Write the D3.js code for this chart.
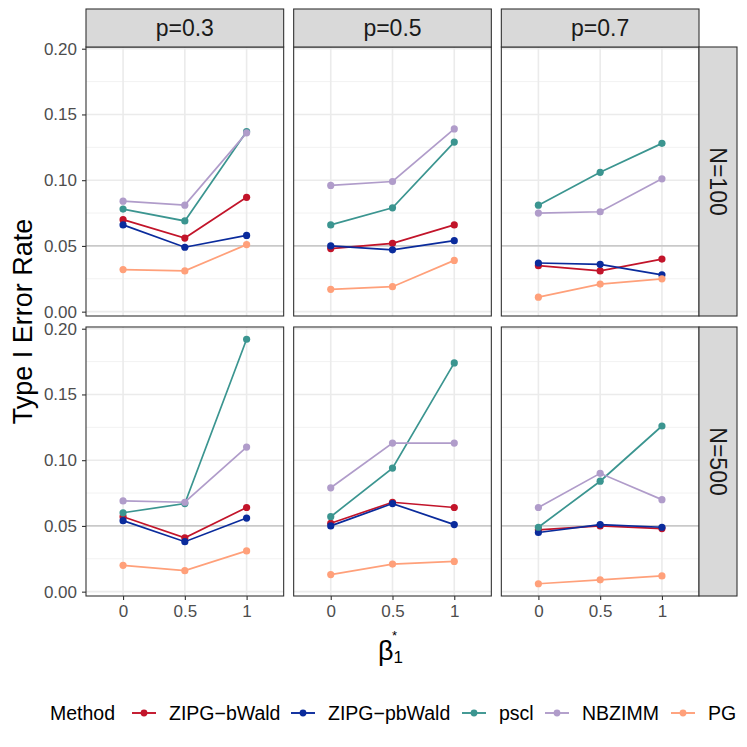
<!DOCTYPE html>
<html><head><meta charset="utf-8">
<script src="https://cdn.jsdelivr.net/npm/d3@7"></script>
<style>body{margin:0;background:#fff}svg{display:block;font-family:"Liberation Sans",Arial,sans-serif}</style>
</head><body><svg id="c" width="747" height="747"></svg>
<script>
// ---- data ----
const methods = ["ZIPG\u2212bWald", "ZIPG\u2212pbWald", "pscl", "NBZIMM", "PG"];
const methodColors = ["#C2142A", "#0A2B9C", "#3B9590", "#B09CCA", "#FFA07A"];
const pLabels = ["p=0.3", "p=0.5", "p=0.7"];
const nLabels = ["N=100", "N=500"];
const betaLabels = ["0", "0.5", "1"];
const yTickValues = [0, 0.05, 0.10, 0.15, 0.20];
const yMinorValues = [0.025, 0.075, 0.125, 0.175];
const refLine = 0.05;
// rates[N][p][beta]
const rateZIPGbWald = [
  [[0.070, 0.056, 0.087], [0.048, 0.052, 0.066], [0.035, 0.031, 0.040]],
  [[0.057, 0.041, 0.064], [0.052, 0.068, 0.064], [0.047, 0.050, 0.048]]
];
const rateZIPGpbWald = [
  [[0.066, 0.049, 0.058], [0.050, 0.047, 0.054], [0.037, 0.036, 0.028]],
  [[0.054, 0.038, 0.056], [0.050, 0.067, 0.051], [0.045, 0.051, 0.049]]
];
const ratePscl = [
  [[0.078, 0.069, 0.137], [0.066, 0.079, 0.129], [0.081, 0.106, 0.128]],
  [[0.060, 0.067, 0.192], [0.057, 0.094, 0.174], [0.049, 0.084, 0.126]]
];
const rateNBZIMM = [
  [[0.084, 0.081, 0.136], [0.096, 0.099, 0.139], [0.075, 0.076, 0.101]],
  [[0.069, 0.068, 0.110], [0.079, 0.113, 0.113], [0.064, 0.090, 0.070]]
];
const ratePG = [
  [[0.032, 0.031, 0.051], [0.017, 0.019, 0.039], [0.011, 0.021, 0.025]],
  [[0.020, 0.016, 0.031], [0.013, 0.021, 0.023], [0.006, 0.009, 0.012]]
];
const allRates = [rateZIPGbWald, rateZIPGpbWald, ratePscl, rateNBZIMM, ratePG];

// ---- layout ----
const svg = d3.select("#c");
const plotLeft = 86, plotRight = 699, colGap = 10;
const panelW = (plotRight - plotLeft - 2 * colGap) / 3;
const rowTops = [47, 327], panelH = 269;
const stripTop = 9, stripRightW = 38;

const x = d3.scalePoint().domain(betaLabels).range([0, panelW]).padding(0.6);
const yDomain = [-0.0033, 0.2013];

for (let r = 0; r < 2; r++) {
  const y = d3.scaleLinear().domain(yDomain).range([panelH, 0]);
  for (let c = 0; c < 3; c++) {
    const px = plotLeft + c * (panelW + colGap), py = rowTops[r];
    const g = svg.append("g").attr("transform", `translate(${px},${py})`);
    g.append("rect").attr("width", panelW).attr("height", panelH).attr("fill", "#fff");
    // minor grid
    g.selectAll(".mn").data(yMinorValues).join("line")
      .attr("x1", 0).attr("x2", panelW).attr("y1", d => y(d)).attr("y2", d => y(d))
      .attr("stroke", "#F2F2F2").attr("stroke-width", 1);
    // major grid
    g.selectAll(".mj").data(yTickValues).join("line")
      .attr("x1", 0).attr("x2", panelW).attr("y1", d => y(d)).attr("y2", d => y(d))
      .attr("stroke", "#EBEBEB").attr("stroke-width", 1.6);
    g.selectAll(".vx").data(betaLabels).join("line")
      .attr("x1", d => x(d)).attr("x2", d => x(d)).attr("y1", 0).attr("y2", panelH)
      .attr("stroke", "#EBEBEB").attr("stroke-width", 1.6);
    // reference line
    g.append("line").attr("x1", 0).attr("x2", panelW).attr("y1", y(refLine)).attr("y2", y(refLine))
      .attr("stroke", "#BEBEBE").attr("stroke-width", 1.4);
    // series
    const line = d3.line().x((d, i) => x(betaLabels[i])).y(d => y(d));
    allRates.forEach((rates, m) => {
      const vals = rates[r][c];
      g.append("path").attr("d", line(vals)).attr("fill", "none")
        .attr("stroke", methodColors[m]).attr("stroke-width", 1.7);
      g.selectAll(null).data(vals).join("circle")
        .attr("cx", (d, i) => x(betaLabels[i])).attr("cy", d => y(d)).attr("r", 3.6)
        .attr("fill", methodColors[m]);
    });
    // border
    g.append("rect").attr("width", panelW).attr("height", panelH).attr("fill", "none")
      .attr("stroke", "#333333").attr("stroke-width", 1.1);
    // y axis on first column
    if (c === 0) {
      const ax = g.append("g").call(d3.axisLeft(y).tickValues(yTickValues).tickFormat(d3.format(".2f")).tickSize(4).tickPadding(5));
      ax.select(".domain").remove();
      ax.selectAll("line").attr("stroke", "#333333").attr("stroke-width", 1.1);
      ax.selectAll("text").attr("fill", "#4D4D4D").attr("font-size", 17).attr("font-family", "Liberation Sans, Arial, sans-serif");
    }
    // x axis on bottom row
    if (r === 1) {
      const ax = g.append("g").attr("transform", `translate(0,${panelH})`)
        .call(d3.axisBottom(x).tickSize(4).tickPadding(5));
      ax.select(".domain").remove();
      ax.selectAll("line").attr("stroke", "#333333").attr("stroke-width", 1.1);
      ax.selectAll("text").attr("fill", "#4D4D4D").attr("font-size", 17).attr("font-family", "Liberation Sans, Arial, sans-serif");
    }
    // top strips
    if (r === 0) {
      svg.append("rect").attr("x", px).attr("y", stripTop).attr("width", panelW).attr("height", py - stripTop)
        .attr("fill", "#D9D9D9").attr("stroke", "#333333").attr("stroke-width", 1.1);
      svg.append("text").attr("x", px + panelW / 2).attr("y", (stripTop + py) / 2).attr("dy", "0.36em")
        .attr("text-anchor", "middle").attr("font-size", 23).attr("fill", "#1A1A1A").text(pLabels[c]);
    }
    // right strips
    if (c === 2) {
      svg.append("rect").attr("x", px + panelW).attr("y", py).attr("width", stripRightW).attr("height", panelH)
        .attr("fill", "#D9D9D9").attr("stroke", "#333333").attr("stroke-width", 1.1);
      const cx = px + panelW + stripRightW / 2, cy = py + panelH / 2;
      svg.append("text").attr("transform", `translate(${cx},${cy}) rotate(90)`).attr("dy", "0.36em")
        .attr("text-anchor", "middle").attr("font-size", 23).attr("fill", "#1A1A1A").text(nLabels[r]);
    }
  }
}

// axis titles
svg.append("text").attr("transform", `translate(32,${(rowTops[0] + rowTops[1] + panelH) / 2}) rotate(-90)`)
  .attr("text-anchor", "middle").attr("font-size", 27).attr("fill", "#000").text("Type I Error Rate");
const xt = svg.append("text").attr("x", 378).attr("y", 660).attr("font-size", 27).attr("fill", "#000");
xt.append("tspan").text("\u03B2");
xt.append("tspan").attr("font-size", 17).attr("dy", 3).text("1");
svg.append("text").attr("x", 392).attr("y", 640).attr("font-size", 13).attr("fill", "#000").text("*");

// legend
const legY = 713;
svg.append("text").attr("x", 50).attr("y", legY).attr("dy", "0.36em").attr("font-size", 19.5).attr("fill", "#000").text("Method");
const keyX = [132, 291, 462, 545, 671];
const textX = [169, 328, 499, 582, 708];
methods.forEach((m, i) => {
  svg.append("line").attr("x1", keyX[i]).attr("x2", keyX[i] + 24).attr("y1", legY).attr("y2", legY)
    .attr("stroke", methodColors[i]).attr("stroke-width", 1.9);
  svg.append("circle").attr("cx", keyX[i] + 12).attr("cy", legY).attr("r", 3.4).attr("fill", methodColors[i]);
  svg.append("text").attr("x", textX[i]).attr("y", legY).attr("dy", "0.36em").attr("font-size", 19.5).attr("fill", "#000").text(m);
});
</script></body></html>
